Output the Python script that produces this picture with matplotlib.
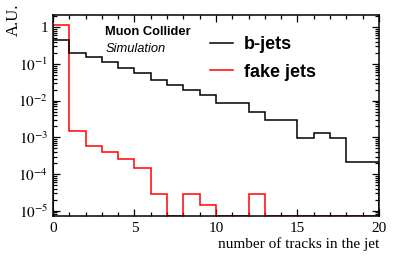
import numpy as np
import matplotlib
matplotlib.use("Agg")
import matplotlib.pyplot as plt
from matplotlib.ticker import FixedLocator, MultipleLocator

# Data (bin contents, arbitrary units)
edges = np.arange(0, 21)
bjets = [0.45, 0.2, 0.15, 0.113, 0.076, 0.056, 0.036, 0.027, 0.0196, 0.0143,
         0.0085, 0.0085, 0.005, 0.0029, 0.0029, 0.00094, 0.0013, 0.00094, 0.00021, 0.00021]
fakejets = [1.18, 0.0015, 0.00059, 0.00039, 0.00025, 0.000148, 2.85e-5, 0, 2.85e-5, 1.43e-5,
            0, 0, 2.85e-5, 0, 0, 0, 0, 0, 0, 0]

ymin, ymax = 7.2e-6, 2.2

plt.rcParams['mathtext.fontset'] = 'stix'
serif = 'Liberation Serif'
sans = 'Liberation Sans'

fig = plt.figure(figsize=(3.99, 2.56), dpi=100)
ax = fig.add_axes([0.1328, 0.1563, 0.8170, 0.7863])

ax.set_yscale('log')
ax.set_xlim(0, 20)
ax.set_ylim(ymin, ymax)

# zero bins drawn on the lower edge, like ROOT does
fake_draw = np.clip(fakejets, ymin, None)
ax.stairs(bjets, edges, baseline=ymin, color='black', lw=1.1, zorder=3)
ax.stairs(fake_draw, edges, baseline=ymin, color='#ff0000', lw=1.1, zorder=2)

# ticks
ax.xaxis.set_major_locator(MultipleLocator(5))
ax.xaxis.set_minor_locator(MultipleLocator(1))
majors = [1e-5, 1e-4, 1e-3, 1e-2, 1e-1, 1]
labels = [r'$10^{-5}$', r'$10^{-4}$', r'$10^{-3}$', r'$10^{-2}$', r'$10^{-1}$', '1']
ax.yaxis.set_major_locator(FixedLocator(majors))
ax.set_yticklabels(labels)
minors = [m * 10.0**e for e in range(-6, 1) for m in range(2, 10)]
ax.yaxis.set_minor_locator(FixedLocator(minors))
ax.tick_params(which='both', direction='in', top=True, right=True, width=0.9)
ax.tick_params(which='major', length=5)
ax.tick_params(which='minor', length=3)
ax.tick_params(axis='x', which='major', pad=4)
for lab in ax.get_xticklabels() + ax.get_yticklabels():
    lab.set_family(serif)
    lab.set_fontsize(11)

for s in ax.spines.values():
    s.set_linewidth(1.1)
    s.set_zorder(4)

ax.set_xlabel('number of tracks in the jet', family=serif, fontsize=11, loc='right', labelpad=2)
fig.text(14 / 399, 1 - 4 / 256, 'A.U.', family=serif, fontsize=12, rotation=90,
         ha='center', va='top')

# labels
ax.text(0.16, 0.912, 'Muon Collider', transform=ax.transAxes, family=sans,
        fontweight='bold', fontsize=9.3, va='center')
ax.text(0.16, 0.83, 'Simulation', transform=ax.transAxes, family=sans,
        style='italic', fontsize=9.3, va='center')

ax.legend(['b-jets', 'fake jets'], loc='upper left', bbox_to_anchor=(0.482, 0.895),
          frameon=False, prop={'family': sans, 'weight': 'bold', 'size': 13},
          handlelength=1.25, handletextpad=0.6, labelspacing=0.6, borderaxespad=0,
          borderpad=0)

fig.savefig('out.png', dpi=100)
